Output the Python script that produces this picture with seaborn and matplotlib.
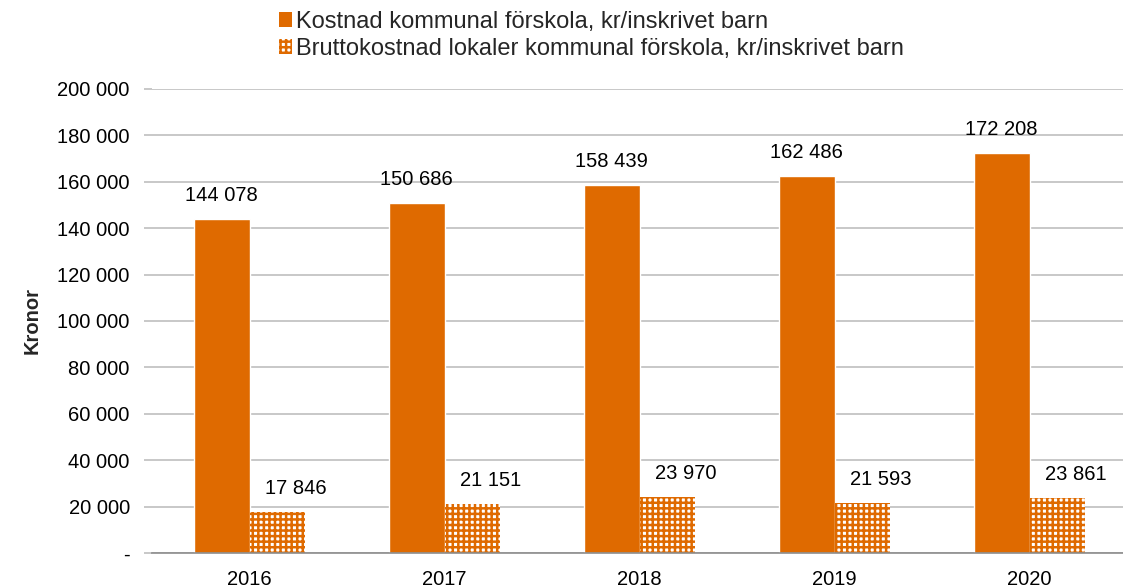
import matplotlib
matplotlib.use("Agg")
import matplotlib.pyplot as plt
import matplotlib.ticker as mticker
from matplotlib.patches import Patch
import seaborn as sns
import pandas as pd

years = ["2016", "2017", "2018", "2019", "2020"]
series_names = ["Kostnad kommunal förskola, kr/inskrivet barn",
                "Bruttokostnad lokaler kommunal förskola, kr/inskrivet barn"]
kostnad = [144078, 150686, 158439, 162486, 172208]
lokaler = [17846, 21151, 23970, 21593, 23861]
y_ticks = [0, 20000, 40000, 60000, 80000, 100000, 120000, 140000, 160000, 180000, 200000]

ORANGE = "#DF6A00"
GRID = "#BFBFBF"

sns.set_theme(style="white")
plt.rcParams['font.family'] = ['Liberation Sans', 'DejaVu Sans']
plt.rcParams['hatch.linewidth'] = 1.8

df = pd.DataFrame({
    "year": years * 2,
    "serie": [series_names[0]] * len(years) + [series_names[1]] * len(years),
    "value": kostnad + lokaler,
})

fig = plt.figure(figsize=(11.23, 5.88), dpi=100)
ax = fig.add_axes([152 / 1123, 1 - 553 / 588, 975 / 1123, (553 - 89) / 588])

sns.barplot(data=df, x="year", y="value", hue="serie", order=years,
            hue_order=series_names, palette=[ORANGE, ORANGE],
            width=0.574, gap=0, dodge=True, ax=ax, legend=False,
            errorbar=None, saturation=1)

# style second series: white with orange checker hatch
for bar in ax.containers[1]:
    bar.set_facecolor("white")
    bar.set_edgecolor(ORANGE)
    bar.set_hatch("+++")
    bar.set_linewidth(0)

fs = 14.5
for i, cont in enumerate(ax.containers):
    for bar in cont:
        h = bar.get_height()
        xoff = 0 if i == 0 else 18
        ax.annotate(f"{int(round(h)):,}".replace(",", " "),
                    (bar.get_x() + bar.get_width() / 2, h),
                    xytext=(xoff, 14), textcoords="offset pixels",
                    ha="center", va="bottom", fontsize=fs, color="black")

ax.set_ylim(0, 200000)
ax.set_xlim(-0.5, len(years) - 0.5)
ax.set_yticks(y_ticks)
ax.yaxis.set_major_formatter(mticker.FuncFormatter(
    lambda v, p: "-" if v == 0 else f"{int(v):,}".replace(",", " ")))
ax.grid(axis="y", color=GRID, linewidth=1.2)
ax.set_axisbelow(True)

for s in ["top", "right", "left"]:
    ax.spines[s].set_visible(False)
ax.spines["bottom"].set_color("#8C8C8C")
ax.spines["bottom"].set_linewidth(1.2)

ax.set_xticks(range(len(years)))
ax.set_xticklabels(years)
ax.tick_params(axis="x", which="major", length=0, pad=12, labelsize=fs, colors="black")
ax.set_xticks([i - 0.5 for i in range(len(years) + 1)], minor=True)
ax.tick_params(axis="x", which="minor", length=7, width=1.2, color="#8C8C8C", direction="out")
ax.tick_params(axis="y", length=6, width=1.2, color=GRID, direction="out", pad=10,
               labelsize=fs, labelcolor="black", left=True)

ax.set_xlabel("")
ax.set_ylabel("Kronor", fontsize=fs, fontweight="bold", labelpad=11)

handles = [Patch(facecolor=ORANGE, edgecolor=ORANGE, linewidth=0),
           Patch(facecolor="white", edgecolor=ORANGE, hatch="+++", linewidth=0)]
fig.legend(handles, series_names, loc="upper left", bbox_to_anchor=(262 / 1123, 1.01),
           frameon=False, fontsize=17, handlelength=0.55, handleheight=0.6,
           handletextpad=0.2, labelspacing=0.22, borderaxespad=0.3)

fig.savefig("out.png", dpi=100)
